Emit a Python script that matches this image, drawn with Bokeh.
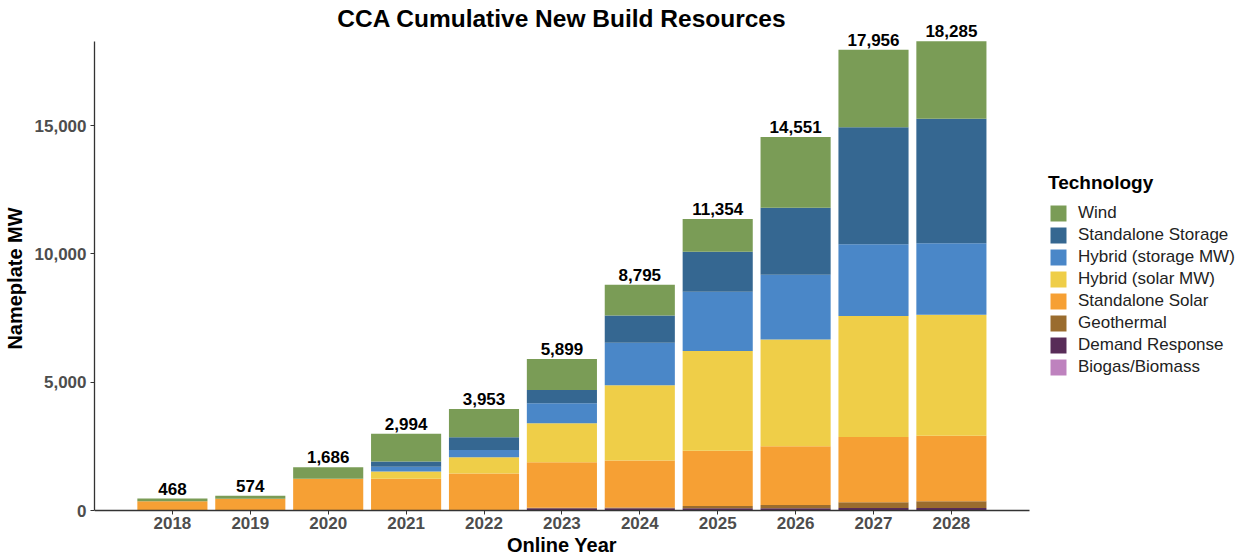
from bokeh.plotting import figure
from bokeh.models import (Range1d, Legend, LegendItem, NumeralTickFormatter,
                          FixedTicker, ColumnDataSource, Label)
from bokeh.core.properties import value
from bokeh.embed import file_html
from bokeh.resources import INLINE

years = [2018, 2019, 2020, 2021, 2022, 2023, 2024, 2025, 2026, 2027, 2028]

# stacked from bottom to top
biogas     = [0, 0, 0, 0, 0, 10, 10, 10, 10, 10, 10]
demand     = [0, 0, 0, 0, 0, 80, 80, 80, 80, 90, 90]
geothermal = [0, 0, 0, 0, 0, 20, 30, 85, 124, 219, 258]
solar      = [360, 460, 1225, 1233, 1446, 1774, 1826, 2157, 2286, 2543, 2558]
hyb_solar  = [0, 0, 15, 290, 627, 1513, 2937, 3879, 4167, 4712, 4712]
hyb_stor   = [0, 0, 0, 180, 286, 782, 1651, 2313, 2519, 2804, 2789]
storage    = [0, 0, 0, 211, 498, 520, 1068, 1557, 2609, 4555, 4844]
wind       = [108, 114, 446, 1080, 1096, 1200, 1193, 1273, 2756, 3023, 3024]

keys = ["biogas", "demand", "geothermal", "solar", "hyb_solar", "hyb_stor", "storage", "wind"]
labels = ["Biogas/Biomass", "Demand Response", "Geothermal", "Standalone Solar",
          "Hybrid (solar MW)", "Hybrid (storage MW)", "Standalone Storage", "Wind"]
colors = ["#BE82BE", "#582C58", "#9A6C2E", "#F6A034",
          "#EFCE48", "#4A87C8", "#356791", "#7A9C56"]
y_ticks = [0, 5000, 10000, 15000]

series = [biogas, demand, geothermal, solar, hyb_solar, hyb_stor, storage, wind]
data = {"x": years}
for k, s in zip(keys, series):
    data[k] = s
totals = [sum(v) for v in zip(*series)]
data["total"] = totals
data["total_label"] = [f"{t:,}" for t in totals]
src = ColumnDataSource(data)
y_top = max(totals)

FONT = "Liberation Sans"
W, H = 1249, 556
LEFT = 94

# frame covers the whole figure height; the x axis is drawn at y = 0 inside it
x_start, x_axis_end = years[0] - 1, years[-1] + 1
x_end = x_start + (W - LEFT) / 77.9       # room on the right for the legend
px_per_unit = 469.5 / y_top               # pixels per MW
y_end = y_top + 40.7 / px_per_unit        # head room for title / totals
y_start = -46 / px_per_unit               # room under the axis for labels

p = figure(width=W, height=H, output_backend="svg", toolbar_location=None,
           x_range=Range1d(x_start, x_end), y_range=Range1d(y_start, y_end),
           min_border_left=LEFT, min_border_right=0, min_border_top=0,
           min_border_bottom=0)

rs = p.vbar_stack(keys, x="x", width=0.9, source=src, color=colors, line_color=None)

p.text(x="x", y="total", text="total_label", source=src,
       text_font=value(FONT), text_font_style="bold", text_font_size="17px",
       text_align="center", text_baseline="bottom", y_offset=-4, text_color="#000000")

title = Label(x=(x_start + x_axis_end) / 2, y=H - 18, x_units="data", y_units="screen",
              text="CCA Cumulative New Build Resources", text_font=FONT,
              text_font_size="24.5px", text_font_style="bold", text_color="#000000",
              text_align="center", text_baseline="middle")
p.add_layout(title)

xlabel = Label(x=(x_start + x_axis_end) / 2, y=12, x_units="data", y_units="screen",
               text="Online Year", text_font=FONT,
               text_font_size="20px", text_font_style="bold", text_color="#000000",
               text_align="center", text_baseline="middle")
p.add_layout(xlabel)

p.xgrid.visible = False
p.ygrid.visible = False
p.outline_line_color = None
p.background_fill_color = "white"

for ax in (p.xaxis[0], p.yaxis[0]):
    ax.axis_line_color = "#333333"
    ax.axis_line_width = 1.3
    ax.major_tick_line_color = "#333333"
    ax.major_tick_out = 4
    ax.major_tick_in = 0
    ax.minor_tick_line_color = None
    ax.major_label_text_font = FONT
    ax.major_label_text_font_size = "17px"
    ax.major_label_text_font_style = "bold"
    ax.major_label_text_color = "#4D4D4D"
    ax.axis_label_text_font = FONT
    ax.axis_label_text_font_size = "20px"
    ax.axis_label_text_font_style = "bold"
    ax.axis_label_text_color = "#000000"

p.xaxis.fixed_location = 0
p.xaxis.major_label_standoff = 2
p.xaxis.ticker = FixedTicker(ticks=years)
p.xaxis.bounds = (x_start, x_axis_end)

p.yaxis.major_label_standoff = 4
p.yaxis.axis_label_standoff = 6
p.yaxis.ticker = FixedTicker(ticks=y_ticks)
p.yaxis.formatter = NumeralTickFormatter(format="0,0")
p.yaxis.axis_label = "Nameplate MW"
p.yaxis.bounds = (0, y_top)

items = [LegendItem(label=lab, renderers=[r]) for lab, r in zip(labels, rs)][::-1]
legend = Legend(items=items, location=(954, 179), title="Technology",
                title_text_font=FONT, title_text_font_size="19px",
                title_text_font_style="bold", title_text_color="#000000",
                title_standoff=9,
                label_text_font=FONT, label_text_font_size="17px",
                label_text_color="#222222",
                glyph_width=20, glyph_height=20, label_height=20,
                spacing=2, label_standoff=10, padding=12, margin=0,
                border_line_color=None, background_fill_alpha=0)
p.add_layout(legend, "center")

open("out.html", "w").write(file_html(p, INLINE))
